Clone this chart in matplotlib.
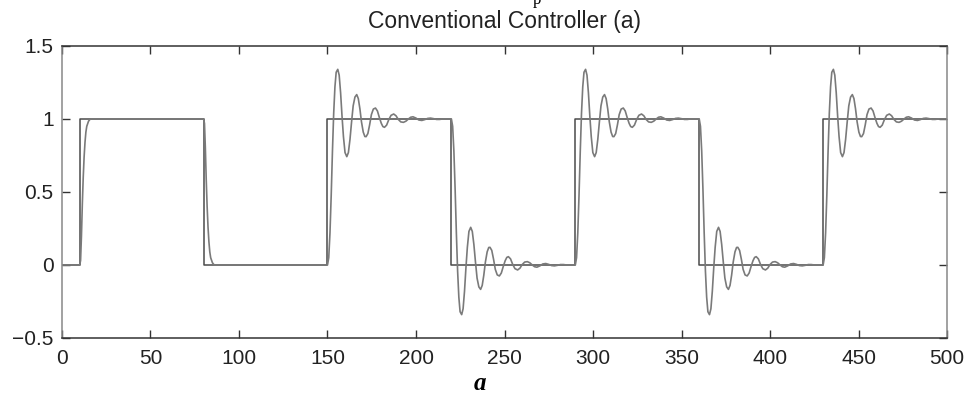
import numpy as np
import matplotlib
matplotlib.use("Agg")
import matplotlib.pyplot as plt

# ---- data ----
step_times = [10, 80, 150, 220, 290, 360, 430]
step_levels = [1, 0, 1, 0, 1, 0, 1]          # reference level after each step
t_end = 500
oscillatory = [False, False, True, True, True, True, True]

# smooth (no overshoot) unit-step response, relative time / value
smooth_tau = [0, 0.5, 1.0, 1.5, 2.0, 2.5, 3.0, 3.5, 4.0, 5.0, 6.0, 70]
smooth_val = [0, 0.03, 0.2, 0.42, 0.6, 0.74, 0.84, 0.91, 0.95, 0.985, 1.0, 1.0]

# oscillatory unit-step response, relative time / value
osc_tau = [0, 0.7, 1.4, 2.1, 2.8, 3.5, 4.2, 4.9, 5.8, 6.6, 7.4, 8.2, 9.0, 9.9, 10.9,
           11.8, 12.7, 13.6, 14.5, 15.5, 16.5, 17.4, 18.3, 19.2, 20.2, 21.1, 21.8,
           22.8, 23.8, 24.8, 25.9, 27.1, 28.2, 29.3, 30.4, 31.3, 32.2, 33.4, 34.6,
           35.9, 37.4, 38.7, 40.0, 41.4, 42.9, 44.3, 45.7, 47.0, 48.3, 50.0, 51.6,
           53.3, 55.0, 56.6, 58.2, 60.0, 61.6, 63.3, 65.0, 70.0]
osc_val = [0, 0.05, 0.22, 0.48, 0.78, 1.04, 1.22, 1.32, 1.34, 1.3, 1.18, 1.02, 0.88, 0.77, 0.742,
           0.77, 0.86, 0.98, 1.09, 1.15, 1.167, 1.14, 1.07, 0.98, 0.91, 0.88, 0.879,
           0.9, 0.96, 1.03, 1.068, 1.075, 1.055, 1.01, 0.97, 0.948, 0.943, 0.958, 0.995,
           1.025, 1.034, 1.022, 0.997, 0.98, 0.977, 0.985, 1.0, 1.012, 1.015, 1.006, 0.993,
           0.99, 0.996, 1.004, 1.006, 1.002, 0.997, 0.997, 1.0, 1.0]

# ---- build the curves ----
ref_t = [0]
ref_y = [0]
for s, lv in zip(step_times, step_levels):
    ref_t += [s, s]
    ref_y += [ref_y[-1], lv]
ref_t.append(t_end)
ref_y.append(ref_y[-1])

resp_t = [0, step_times[0]]
resp_y = [0, 0]
prev = 0
bounds = step_times[1:] + [t_end]
for s, lv, osc, nxt in zip(step_times, step_levels, oscillatory, bounds):
    tau = osc_tau if osc else smooth_tau
    val = osc_val if osc else smooth_val
    for tt, vv in zip(tau, val):
        if s + tt > nxt:
            break
        resp_t.append(s + tt)
        resp_y.append(prev + (lv - prev) * vv)
    resp_t.append(nxt)
    resp_y.append(lv)
    prev = lv

# ---- draw ----
fig = plt.figure(figsize=(9.64, 4.03), dpi=100)
ax = fig.add_axes([0.0643, 0.1613, 0.9181, 0.7246])

ax.plot(ref_t, ref_y, color="#4a4a4a", lw=1.1)
ax.plot(resp_t, resp_y, color="#7a7a7a", lw=1.2)

ax.set_xlim(0, 500)
ax.set_ylim(-0.5, 1.5)
ax.set_xticks(np.arange(0, 501, 50))
ax.set_yticks([-0.5, 0, 0.5, 1, 1.5])
ax.set_yticklabels(["\u22120.5", "0", "0.5", "1", "1.5"])
ax.tick_params(direction="in", top=True, right=True, length=6, width=1,
               labelsize=15, color="#333333")
ax.tick_params(axis="x", pad=8)
ax.tick_params(axis="y", pad=6)
for lab in ax.get_xticklabels() + ax.get_yticklabels():
    lab.set_family(["Liberation Sans", "DejaVu Sans"])
    lab.set_color("#222222")
for sp in ax.spines.values():
    sp.set_color("#333333")
    sp.set_linewidth(1.1)
ax.spines["left"].set_color("#888888")
ax.spines["right"].set_color("#888888")

ax.set_title("Conventional Controller (a)", fontsize=16.5, color="#222222", pad=13,
             family=["Liberation Sans", "DejaVu Sans"])

fig.text(0.498, 0.048, "a", fontsize=18, fontweight="bold", fontstyle="italic",
         family="Liberation Serif", ha="center", va="center")
fig.text(0.557, 1 - 4.5 / 403, "p", fontsize=12, family="Liberation Serif",
         ha="center", va="baseline")

fig.savefig("out.png", dpi=100)
